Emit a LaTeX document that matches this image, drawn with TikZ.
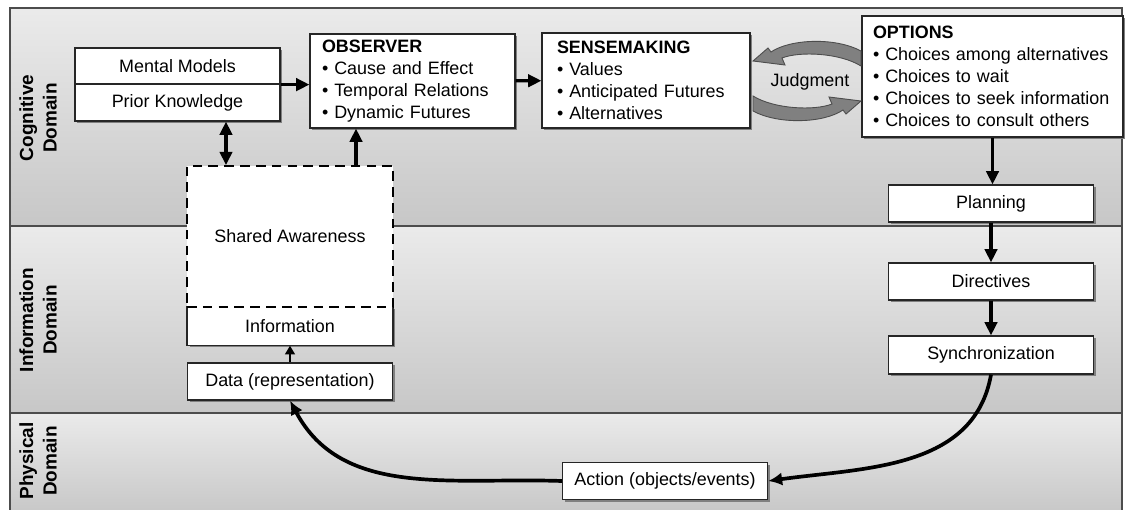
\documentclass[tikz,border=0pt]{standalone}
\usepackage{fontspec}
\setmainfont{Liberation Sans}
\usetikzlibrary{arrows.meta,shadows}

\begin{document}
\begin{tikzpicture}[
    x = 0.02cm, y = -0.02cm,
    every node/.style = {font=\fontsize{10.2}{12.6}\selectfont},
    band/.style = {draw=black!70, line width=0.6pt, top color=gray!16, bottom color=gray!44},
    domainlabel/.style = {rotate=90, align=center, font=\fontsize{10.8}{13.4}\selectfont\bfseries},
    box/.style = {draw=black!85, line width=0.7pt, fill=white, inner sep=0pt,
                  minimum width=4.1cm, minimum height=0.74cm,
                  drop shadow={shadow xshift=1.2pt, shadow yshift=-1.2pt, fill=black!50, opacity=1}},
    listbox/.style = {box, align=left},
    arr/.style = {line width=1.8pt, -{Triangle[length=7.5pt,width=7pt]}},
    arrboth/.style = {line width=1.8pt, {Triangle[length=7.5pt,width=7pt]}-{Triangle[length=7.5pt,width=7pt]}},
    curvarr/.style = {line width=2.1pt, -{Latex[length=8pt,width=7.5pt]}},
    judgearr/.style = {fill=gray, draw=black!70, line width=0.5pt}
  ]
  \useasboundingbox (0,0) rectangle (1125,510);

  % domains
  \draw[band] (10,8) rectangle (1122,226);
  \draw[band] (10,226) rectangle (1122,413);
  \draw[band] (10,413) rectangle (1122,515);
  \node[domainlabel] (cog) at (38,118) {Cognitive\\Domain};
  \node[domainlabel] (inf) at (38,320) {Information\\Domain};
  \node[domainlabel] (phy) at (38,461) {Physical\\Domain};

  % cognitive boxes
  \node[box, minimum height=0.72cm] (mental) at (177.5,66) {Mental Models};
  \node[box] (prior) at (177.5,102.5) {Prior Knowledge};
  \node[listbox, inner xsep=0.24cm, text width=3.62cm, minimum height=1.88cm] (obs) at (412.5,81)
    {\textbf{OBSERVER}\\\textbullet\ Cause and Effect\\\textbullet\ Temporal Relations\\\textbullet\ Dynamic Futures};
  \node[listbox, inner xsep=0.3cm, text width=3.56cm, minimum height=1.9cm] (sense) at (646,80.5)
    {\textbf{SENSEMAKING}\\\textbullet\ Values\\\textbullet\ Anticipated Futures\\\textbullet\ Alternatives};
  \node[listbox, inner xsep=0.22cm, text width=4.78cm, minimum height=2.42cm] (options) at (992.5,76.5)
    {\textbf{OPTIONS}\\\textbullet\ Choices among alternatives\\\textbullet\ Choices to wait\\\textbullet\ Choices to seek information\\\textbullet\ Choices to consult others};
  \node (judg) at (810,82) {Judgment};
  \foreach \r in {0,180}
    \filldraw[judgearr, rotate around={\r:(807,81)}] (753,61) -- (768,48) -- (771,52)
      .. controls (790,39) and (835,37) .. (861,51) -- (861,66)
      .. controls (840,53) and (800,51) .. (782,58) -- (785,65) -- cycle;

  % right column
  \node[box] (planning) at (991,203.5) {Planning};
  \node[box] (directives) at (991,281.5) {Directives};
  \node[box, minimum height=0.76cm] (sync) at (991,355) {Synchronization};
  \node[box] (action) at (665,481) {Action (objects/events)};

  % left column
  \node[box, draw=none, minimum height=0.76cm] (info) at (290,326) {Information};
  \draw[draw=black!85, line width=0.7pt] (info.north west) |- (info.south east) -- (info.north east);
  \node[draw=black, line width=1.1pt, dash pattern=on 5.5pt off 3.5pt, fill=white,
        minimum width=4.12cm, minimum height=2.82cm] (shared) at (290,236.5) {Shared Awareness};
  \node[box] (data) at (290,381.5) {Data (representation)};

  % connectors
  \draw[arr] (mental.south east) -- (mental.south east -| obs.west);
  \draw[arr] (obs) -- (sense);
  \coordinate (mk) at ([xshift=0.97cm]prior.south);
  \draw[arrboth] (mk) -- (mk |- shared.north);
  \coordinate (sk) at ([xshift=-1.13cm]obs.south);
  \draw[arr] (sk |- shared.north) -- (sk);
  \draw[line width=1.3pt, -{Triangle[length=5pt,width=5.5pt]}] (data) -- (info);
  \draw[arr] (options.south) -- (options.south |- planning.north);
  \draw[arr] (planning) -- (directives);
  \draw[arr] (directives) -- (sync);
  \draw[curvarr] (sync.south) to[out=-100, in=8] (action.east);
  \draw[curvarr] (action.west) to[out=178, in=-62] (data.south);

\end{tikzpicture}
\end{document}
